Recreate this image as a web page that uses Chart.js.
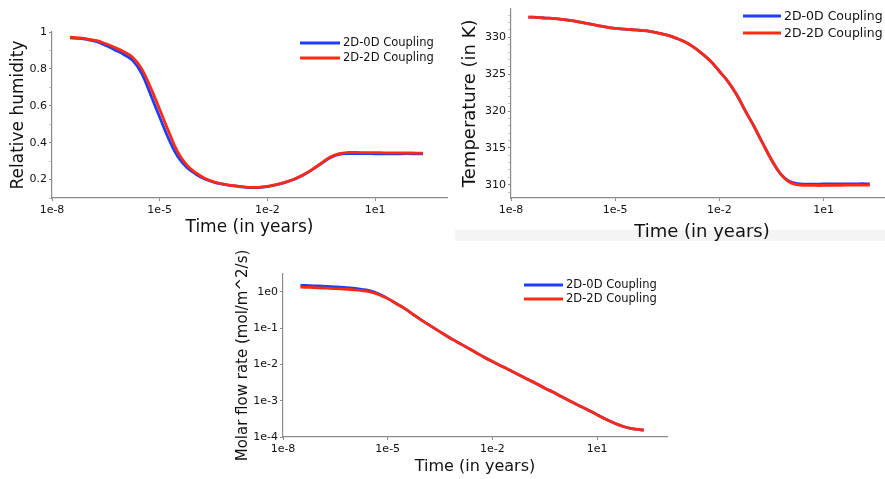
<!DOCTYPE html>
<html>
<head>
<meta charset="utf-8">
<script src="https://cdn.jsdelivr.net/npm/chart.js@4.4.0/dist/chart.umd.min.js"></script>
<style>
  html, body { margin: 0; padding: 0; background: #fff; }
  body { width: 885px; height: 479px; position: relative; overflow: hidden; }
  .box { position: absolute; overflow: hidden; }
  .band { position: absolute; left: 455px; top: 230px; width: 430px; height: 11px; background: #f4f4f4; }
</style>
</head>
<body>
<div class="band"></div>
<div class="box" style="left:0;top:0;width:455px;height:245px"><canvas id="rhChart"></canvas></div>
<div class="box" style="left:450px;top:0;width:435px;height:241px"><canvas id="tempChart"></canvas></div>
<div class="box" style="left:225px;top:245px;width:450px;height:234px"><canvas id="flowChart"></canvas></div>
<script>
// tiempos de muestreo (en años), cada cuarto de década
var timeYears = [3.16e-8, 5.62e-8,
                 1e-7, 1.78e-7, 3.16e-7, 5.62e-7,
                 1e-6, 1.78e-6, 3.16e-6, 5.62e-6,
                 1e-5, 1.78e-5, 3.16e-5, 5.62e-5,
                 1e-4, 1.78e-4, 3.16e-4, 5.62e-4,
                 1e-3, 1.78e-3, 3.16e-3, 5.62e-3,
                 1e-2, 1.78e-2, 3.16e-2, 5.62e-2,
                 0.1, 0.178, 0.316, 0.562,
                 1, 1.78, 3.16, 5.62,
                 10, 17.8, 31.6, 56.2,
                 100, 178, 215];
var seriesLabels = ["2D-0D Coupling", "2D-2D Coupling"];
var timeTicks = [1e-8, 1e-5, 1e-2, 1e1];

// humedad relativa
var rh0D = [0.968, 0.965, 0.958, 0.947, 0.927, 0.903, 0.878, 0.845, 0.775, 0.658,
            0.538, 0.420, 0.325, 0.267, 0.230, 0.203, 0.186, 0.175,
            0.167, 0.161, 0.157, 0.157, 0.162, 0.172, 0.185, 0.202,
            0.225, 0.254, 0.287, 0.318, 0.336, 0.341, 0.341, 0.341,
            0.340, 0.340, 0.340, 0.340, 0.340, 0.339, 0.339];
var rh2D = [0.972, 0.968, 0.962, 0.953, 0.936, 0.916, 0.893, 0.862, 0.800, 0.697,
            0.580, 0.460, 0.350, 0.280, 0.237, 0.207, 0.188, 0.176,
            0.168, 0.162, 0.158, 0.158, 0.163, 0.173, 0.186, 0.203,
            0.226, 0.255, 0.289, 0.322, 0.341, 0.347, 0.347, 0.346,
            0.346, 0.345, 0.345, 0.344, 0.344, 0.343, 0.343];

// temperatura (K)
var temp0D = [332.75, 332.70, 332.62, 332.55, 332.42, 332.26, 332.05, 331.82, 331.60, 331.38,
              331.22, 331.12, 331.03, 330.93, 330.80, 330.58, 330.30, 329.90,
              329.40, 328.70, 327.80, 326.75, 325.40, 324.00, 322.20, 320.00,
              317.90, 315.60, 313.40, 311.55, 310.50, 310.15, 310.08, 310.08,
              310.10, 310.10, 310.12, 310.12, 310.13, 310.13, 310.13];
var temp2D = [332.75, 332.70, 332.62, 332.55, 332.42, 332.26, 332.05, 331.82, 331.60, 331.38,
              331.22, 331.12, 331.03, 330.93, 330.80, 330.58, 330.30, 329.90,
              329.40, 328.70, 327.80, 326.75, 325.40, 324.00, 322.20, 320.00,
              317.90, 315.60, 313.40, 311.55, 310.40, 310.00, 309.92, 309.90,
              309.90, 309.92, 309.93, 309.94, 309.95, 309.95, 309.95];

// flujo molar (mol/m^2/s)
var flow0D = [1.51, 1.48, 1.45, 1.41, 1.37, 1.32, 1.26, 1.17, 1.06, 0.87,
              0.66, 0.47, 0.34, 0.23, 0.158, 0.112, 0.079, 0.056,
              0.041, 0.030, 0.022, 0.016, 0.012, 0.0091, 0.0069, 0.0052,
              0.0039, 0.0030, 0.0022, 0.0017, 0.00126, 0.00095, 0.00072, 0.00055,
              0.00041, 0.00031, 0.00024, 0.000195, 0.00017, 0.000158, 0.000155];
var flow2D = [1.35, 1.32, 1.29, 1.26, 1.23, 1.19, 1.14, 1.08, 1.00, 0.83,
              0.65, 0.47, 0.34, 0.23, 0.158, 0.112, 0.079, 0.056,
              0.041, 0.030, 0.022, 0.016, 0.012, 0.0091, 0.0069, 0.0052,
              0.0039, 0.0030, 0.0022, 0.0017, 0.00126, 0.00095, 0.00072, 0.00055,
              0.00041, 0.00031, 0.00024, 0.000195, 0.00017, 0.000158, 0.000155];

var colors = ["#1f3dff", "#ff2a14"];
var fontName = "'DejaVu Sans', sans-serif";

function puntos(vals) {
    return timeYears.map(function (t, i) { return { x: t, y: vals[i] }; });
}

function expLabel(v) {
    return "1e" + Math.round(Math.log10(v));
}

// leyenda dentro del área del gráfico
var lineKey = {
    id: "lineKey",
    afterDraw: function (chart, args, opts) {
        var ctx = chart.ctx;
        ctx.save();
        ctx.font = opts.size + "px " + fontName;
        ctx.textBaseline = "middle";
        chart.data.datasets.forEach(function (ds, i) {
            var y = opts.y + i * opts.step;
            ctx.strokeStyle = ds.borderColor;
            ctx.lineWidth = 3;
            ctx.beginPath();
            ctx.moveTo(opts.x, y);
            ctx.lineTo(opts.x + opts.len, y);
            ctx.stroke();
            ctx.fillStyle = "#111";
            ctx.fillText(ds.label, opts.x + opts.len + 3, y + 0.5);
        });
        ctx.restore();
    }
};

function makeChart(id, cfg) {
    var canvas = document.getElementById(id);
    canvas.width = cfg.w;
    canvas.height = cfg.h;
    canvas.style.width = cfg.w + "px";
    canvas.style.height = cfg.h + "px";
    var yScale = {
        type: cfg.yType,
        min: cfg.yMin,
        max: cfg.yMax,
        border: { color: "#8c8c8c", width: 1.2 },
        grid: {
            drawOnChartArea: false, tickLength: 3,
            tickColor: function (c) { return c.tick && c.tick.label !== "" ? "#8c8c8c" : "#c4c4c4"; }
        },
        ticks: {
            color: "#111", padding: 2, autoSkip: false, includeBounds: false,
            font: { family: fontName, size: cfg.tickSize },
            stepSize: cfg.yStep,
            callback: cfg.yLabel
        },
        title: {
            display: true, text: cfg.yTitle, color: "#111",
            font: { family: fontName, size: cfg.yTitleSize },
            padding: { top: cfg.yTitlePad, bottom: 0 }
        },
        afterFit: function (s) { s.width = cfg.yWidth; }
    };
    if (cfg.yTicks) {
        yScale.afterBuildTicks = function (s) {
            s.ticks = cfg.yTicks.map(function (v) { return { value: v }; });
        };
    }
    return new Chart(canvas, {
        type: "line",
        data: {
            datasets: [
                { label: seriesLabels[0], data: puntos(cfg.series[0]), borderColor: colors[0], order: 1 },
                { label: seriesLabels[1], data: puntos(cfg.series[1]), borderColor: colors[1], order: 0 }
            ]
        },
        options: {
            responsive: false,
            animation: false,
            devicePixelRatio: 1,
            elements: {
                point: { radius: 0 },
                line: { borderWidth: 2.8, tension: 0.4, fill: false }
            },
            layout: { padding: cfg.pad },
            plugins: {
                legend: { display: false },
                tooltip: { enabled: false },
                lineKey: cfg.key
            },
            scales: {
                x: {
                    type: "logarithmic",
                    min: 1e-8,
                    max: 1e3,
                    border: { color: "#8c8c8c", width: 1.2 },
                    grid: { drawOnChartArea: false, tickLength: 3, color: "#8c8c8c" },
                    ticks: {
                        color: "#111", padding: 3, autoSkip: false, maxRotation: 0,
                        font: { family: fontName, size: cfg.tickSize },
                        callback: expLabel
                    },
                    afterBuildTicks: function (s) {
                        s.ticks = timeTicks.map(function (v) { return { value: v }; });
                    },
                    title: {
                        display: true, text: "Time (in years)", color: "#111",
                        font: { family: fontName, size: cfg.xTitleSize },
                        padding: { top: 0, bottom: cfg.xTitlePad }
                    },
                    afterFit: function (s) { s.height = cfg.xHeight; }
                },
                y: yScale
            }
        },
        plugins: [lineKey]
    });
}

makeChart("rhChart", {
    w: 455, h: 245,
    pad: { left: 0, top: 32, right: 8, bottom: 0 },
    yType: "linear", yMin: 0.1, yMax: 1.0, yStep: 0.1,
    yLabel: function (v) {
        var k = Math.round(v * 10);
        if (k % 2 !== 0) return "";
        return k === 10 ? "1" : (k / 10).toFixed(1);
    },
    yTitle: "Relative humidity", yTitleSize: 17, yTitlePad: 8, yWidth: 52,
    xTitleSize: 17, xTitlePad: 7, xHeight: 47,
    tickSize: 11,
    series: [rh0D, rh2D],
    key: { x: 300, y: 43, step: 15, len: 40, size: 11.5 }
});

makeChart("tempChart", {
    w: 450, h: 250,
    pad: { left: 0, top: 5, right: 7, bottom: 0 },
    yType: "linear", yMin: 308.2, yMax: 333.9, yStep: 1,
    yLabel: function (v) {
        var k = Math.round(v);
        return k % 5 === 0 ? String(k) : "";
    },
    yTitle: "Temperature (in K)", yTitleSize: 18, yTitlePad: 10, yWidth: 61,
    xTitleSize: 18, xTitlePad: 7, xHeight: 52,
    tickSize: 11,
    series: [temp0D, temp2D],
    key: { x: 293, y: 16, step: 17, len: 38, size: 12.5 }
});

makeChart("flowChart", {
    w: 450, h: 234,
    pad: { left: 0, top: 29, right: 8, bottom: 0 },
    yType: "logarithmic", yMin: 1e-4, yMax: 3.1,
    yTicks: [1e-4, 1e-3, 1e-2, 1e-1, 1e0],
    yLabel: expLabel,
    yTitle: "Molar flow rate (mol/m^2/s)", yTitleSize: 15, yTitlePad: 9, yWidth: 58,
    xTitleSize: 16, xTitlePad: 3, xHeight: 42,
    tickSize: 11,
    series: [flow0D, flow2D],
    key: { x: 299, y: 40, step: 14, len: 39, size: 11.5 }
});
</script>
</body>
</html>
